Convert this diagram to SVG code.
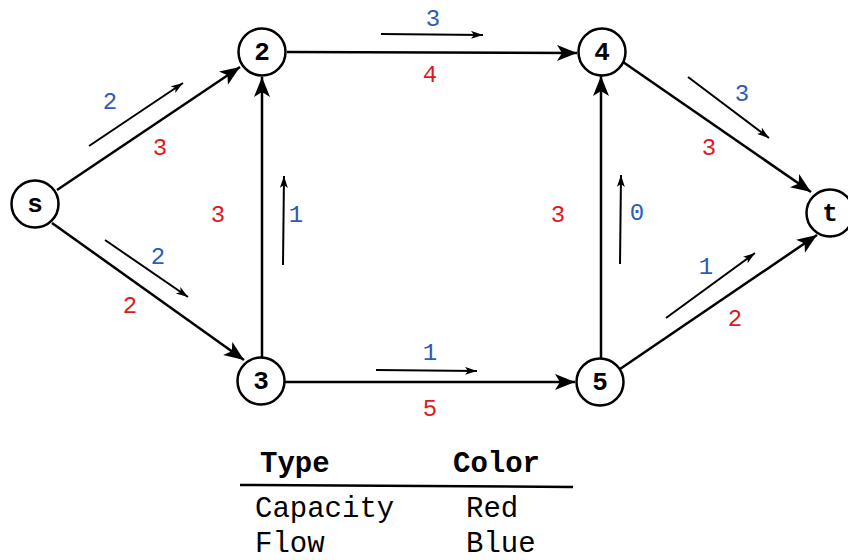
<svg xmlns="http://www.w3.org/2000/svg" width="848" height="560" viewBox="0 0 848 560">
<defs>
<marker id="big" markerUnits="userSpaceOnUse" markerWidth="22" markerHeight="18" refX="20" refY="8" orient="auto">
<path d="M0,0 L20,8 L0,16 L5,8 Z" fill="#000"/>
</marker>
<marker id="small" markerUnits="userSpaceOnUse" markerWidth="14" markerHeight="10" refX="12" refY="4" orient="auto">
<path d="M0,0 L12,4 L0,8 L3,4 Z" fill="#000"/>
</marker>
</defs>
<style>
.node circle{fill:#fff;stroke:#000;stroke-width:2.5}
.node text{font-family:"Liberation Mono",monospace;font-weight:bold;font-size:26px;text-anchor:middle;fill:#000}
.edge{stroke:#000;stroke-width:2.5;fill:none;marker-end:url(#big)}
.flow{stroke:#000;stroke-width:2;fill:none;marker-end:url(#small)}
.lbl{font-family:"Liberation Mono",monospace;font-size:24px;text-anchor:middle}
.cap{fill:#e0191e}
.flw{fill:#2a5cb8}
.th{font-family:"Liberation Mono",monospace;font-weight:bold;font-size:29px;fill:#000}
.td{font-family:"Liberation Mono",monospace;font-size:29px;fill:#000}
</style>
<g id="connectors">
<line class="edge" x1="57" y1="190" x2="240" y2="67"/>
<line class="edge" x1="287" y1="52" x2="577" y2="53"/>
<line class="edge" x1="262" y1="357" x2="262" y2="77"/>
<line class="edge" x1="52" y1="223" x2="244" y2="360"/>
<line class="edge" x1="285" y1="382" x2="575" y2="382"/>
<line class="edge" x1="601" y1="358" x2="601" y2="76"/>
<line class="edge" x1="623" y1="62" x2="811" y2="192"/>
<line class="edge" x1="620" y1="369" x2="817" y2="235"/>
<line class="flow" x1="89" y1="146" x2="183" y2="83"/>
<line class="flow" x1="283" y1="265" x2="284" y2="176"/>
<line class="flow" x1="105" y1="240" x2="188" y2="297"/>
<line class="flow" x1="381" y1="34" x2="483" y2="35"/>
<line class="flow" x1="376" y1="370" x2="477" y2="371"/>
<line class="flow" x1="620" y1="264" x2="621" y2="175"/>
<line class="flow" x1="688" y1="77" x2="769" y2="138"/>
<line class="flow" x1="666" y1="318" x2="755" y2="253"/>
</g>
<g id="labels">
<text class="lbl flw" x="110" y="109">2</text>
<text class="lbl cap" x="160" y="155">3</text>
<text class="lbl cap" x="218" y="222">3</text>
<text class="lbl flw" x="296" y="222">1</text>
<text class="lbl flw" x="158" y="264">2</text>
<text class="lbl cap" x="130" y="313">2</text>
<text class="lbl flw" x="433" y="26">3</text>
<text class="lbl cap" x="430" y="82">4</text>
<text class="lbl cap" x="558" y="222">3</text>
<text class="lbl flw" x="637" y="220">0</text>
<text class="lbl flw" x="742" y="101">3</text>
<text class="lbl cap" x="709" y="155">3</text>
<text class="lbl flw" x="706" y="274">1</text>
<text class="lbl cap" x="735" y="326">2</text>
<text class="lbl flw" x="430" y="360">1</text>
<text class="lbl cap" x="430" y="416">5</text>
</g>
<g id="node-s" class="node"><circle cx="35" cy="204" r="23.5"/><text x="35" y="212">s</text></g>
<g id="node-2" class="node"><circle cx="262" cy="52" r="23.5"/><text x="262" y="60">2</text></g>
<g id="node-4" class="node"><circle cx="602" cy="52" r="23.5"/><text x="602" y="60">4</text></g>
<g id="node-3" class="node"><circle cx="261" cy="381" r="23.5"/><text x="261" y="389">3</text></g>
<g id="node-5" class="node"><circle cx="600" cy="382" r="23.5"/><text x="600" y="390">5</text></g>
<g id="node-t" class="node"><circle cx="830" cy="213" r="23.5"/><text x="830" y="221">t</text></g>
<g id="legend">
<text class="th" x="260" y="472">Type</text>
<text class="th" x="453" y="472">Color</text>
<line x1="240" y1="485" x2="573" y2="487" stroke="#000" stroke-width="2.5"/>
<text class="td" x="255" y="517">Capacity</text>
<text class="td" x="466" y="517">Red</text>
<text class="td" x="255" y="552">Flow</text>
<text class="td" x="466" y="552">Blue</text>
</g>
</svg>
